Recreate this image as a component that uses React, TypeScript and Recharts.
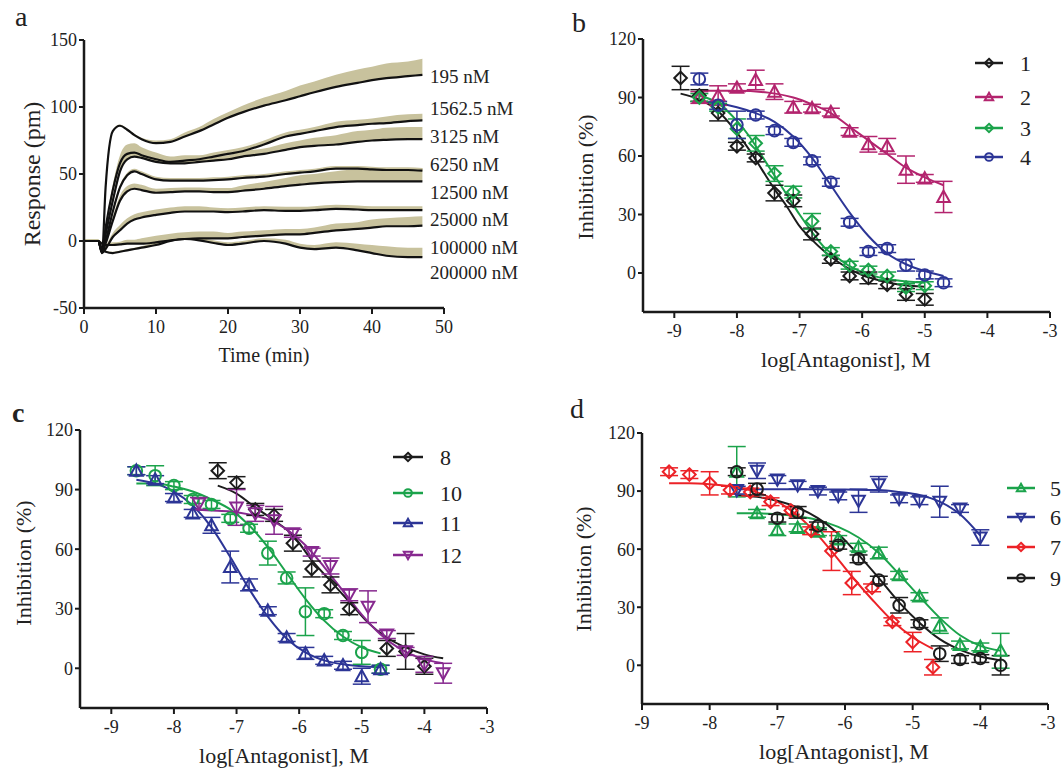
import React from "react";
import {
  ComposedChart,
  Line,
  Area,
  Scatter,
  ErrorBar,
  XAxis,
  YAxis,
  ReferenceDot,
} from "recharts";

const FONT = "'Liberation Serif', 'Times New Roman', serif";
const INK = "#1a1a1a";
const BAND = "#c8c29d";

// ---- panel a: response vs time, one trace per concentration ----
const times = [0, 1, 2, 2.5, 3, 4, 5, 6, 7, 8, 10, 12, 14, 16, 18, 20, 22, 25, 28, 30, 32, 35, 38, 40, 42, 45, 47];
const concLabels = ["195 nM", "1562.5 nM", "3125 nM", "6250 nM", "12500 nM", "25000 nM", "100000 nM", "200000 nM"];
const labelAt = [123, 99, 78, 57.5, 36.5, 16.4, -4.5, -23];

const resp195 = [0, 0, 0, -9, 40, 82, 86, 83, 79, 76, 73, 74, 78, 82, 87, 92, 96, 101, 105, 108, 111, 115, 118, 120, 121.5, 123, 124];
const sd195 = [1, 1, 1, 1, 1, 1, 1, 1, 1, 1, 2, 2, 3, 3, 4, 4, 5, 6, 7, 8, 8, 9, 10, 10, 11, 11, 12];
const resp1562 = [0, 0, 0, -8, 10, 38, 58, 65, 66, 64, 61, 59, 60, 61, 63, 65, 67, 72, 78, 80, 82, 85, 86.5, 87.5, 88, 89.5, 90];
const sd1562 = [1, 1, 1, 1, 2, 4, 6, 7, 7, 6, 5, 4, 4, 3, 3, 3, 3, 3, 3, 3, 3, 4, 4, 4, 5, 5, 5];
const resp3125 = [0, 0, 0, -8, 5, 30, 52, 61, 63, 62, 59, 58, 58, 59, 60, 61, 63, 65, 68, 70, 71, 72, 74, 75, 75.5, 76, 76];
const sd3125 = [1, 1, 1, 1, 2, 3, 4, 4, 4, 4, 3, 3, 3, 3, 3, 3, 4, 4, 5, 5, 6, 7, 8, 8, 9, 9, 9];
const resp6250 = [0, 0, 0, -8, 0, 22, 40, 49, 52, 50, 46, 45, 45, 45, 45.5, 46, 47, 48, 50, 51, 52, 54, 54, 53.5, 53, 53, 52.5];
const sd6250 = [1, 1, 1, 1, 1, 2, 2, 2, 2, 2, 2, 2, 2, 2, 2, 2, 2, 2, 2, 2, 2, 2, 2, 2, 2, 2, 2];
const resp12500 = [0, 0, 0, -8, -2, 15, 30, 37, 39, 38, 36, 36.5, 37, 37, 36.5, 36.5, 37.5, 39, 41, 42, 43, 44, 44.5, 44.5, 44.5, 44.5, 44.5];
const sd12500 = [1, 1, 1, 1, 2, 3, 4, 4, 4, 4, 3, 3, 3, 3, 3, 3, 4, 5, 6, 7, 7, 8, 9, 9, 10, 10, 10];
const resp25000 = [0, 0, 0, -9, -6, 3, 8, 13, 16, 17.5, 19.5, 21, 22, 22, 22, 21.5, 22, 23, 22.5, 22.5, 23, 24, 23.5, 23, 23, 23, 23];
const sd25000 = [1, 1, 1, 1, 2, 3, 4, 4, 4, 4, 4, 4, 4, 4, 3, 3, 3, 3, 3, 3, 3, 3, 3, 3, 3, 3, 3];
const resp100000 = [0, 0, 0, -2, -3, -3, -2.5, -2, -2, -2, -1, 0.5, 1.5, 2, 2, 2, 3, 4, 5, 5, 6, 8, 9, 10, 11, 11, 11.5];
const sd100000 = [1, 1, 1, 1, 1, 2, 2, 3, 3, 4, 5, 5, 5, 5, 5, 4, 4, 4, 4, 4, 4, 5, 5, 6, 6, 7, 7];
const resp200000 = [0, 0, 0, -6, -8, -9, -8, -7, -6, -5, -3, 0, 1.5, 0.5, -1.5, -3, -2, 0, -2, -5, -6, -5, -7, -9, -11, -12, -12];
const sd200000 = [1, 1, 1, 1, 1, 1, 1, 1, 1, 1, 2, 2, 2, 2, 2, 2, 2, 2, 3, 3, 3, 4, 5, 6, 7, 7, 7];

const traceResp = [resp195, resp1562, resp3125, resp6250, resp12500, resp25000, resp100000, resp200000];
const traceSd = [sd195, sd1562, sd3125, sd6250, sd12500, sd25000, sd100000, sd200000];

const timeRows = times.map((t, i) => {
  const row: Record<string, number | number[]> = { t };
  traceResp.forEach((r, k) => {
    row[`r${k}`] = r[i];
    row[`b${k}`] = [r[i], r[i] + traceSd[k][i]];
  });
  return row;
});

// ---- panel b ----
const x1 = [-8.9, -8.6, -8.3, -8.0, -7.7, -7.4, -7.1, -6.8, -6.5, -6.2, -5.9, -5.6, -5.3, -5.0];
const y1 = [100, 91, 82, 65, 59, 41, 37, 20, 7, -1.5, -2.5, -6, -11, -13.5];
const e1 = [6, 3, 4, 2, 2, 4, 3, 3, 2, 2, 3, 2, 3, 3];
const fx1 = [-8.9, -8.6, -8.3, -8.0, -7.8, -7.6, -7.4, -7.2, -7.0, -6.8, -6.6, -6.4, -6.2, -6.0, -5.7, -5.4, -5.0];
const fy1 = [92, 89, 83, 72, 63, 53, 43, 34, 24, 17, 11, 6, 2, -1, -4, -6, -7];

const x2 = [-8.6, -8.3, -8.0, -7.7, -7.4, -7.1, -6.8, -6.5, -6.2, -5.9, -5.6, -5.3, -5.0, -4.7];
const y2 = [90, 91, 95, 99, 93, 85, 84.5, 82.5, 72.5, 66, 65, 53, 48.5, 39];
const e2 = [3, 5, 2, 5, 4, 3, 2, 2, 2, 4, 4, 7, 2, 8];
const fx2 = [-8.6, -8.0, -7.5, -7.1, -6.8, -6.5, -6.2, -5.9, -5.6, -5.3, -5.0, -4.7];
const fy2 = [93.5, 93.5, 92.5, 90, 86.5, 82, 75, 68, 61, 54, 49, 45];

const x3 = [-8.6, -8.3, -8.0, -7.7, -7.4, -7.1, -6.8, -6.5, -6.2, -5.9, -5.6, -5.3, -5.0];
const y3 = [90, 85, 74, 66.5, 51, 41.5, 26.5, 11, 4, 1.5, -1.5, -7.5, -6.5];
const e3 = [2, 2, 5, 4, 4, 3, 4, 2, 2, 2, 2, 2, 2];
const fx3 = [-8.6, -8.3, -8.0, -7.8, -7.6, -7.4, -7.2, -7.0, -6.8, -6.6, -6.4, -6.2, -6.0, -5.7, -5.4, -5.0];
const fy3 = [91, 87, 78, 70, 60, 50, 40, 30, 21, 13, 8, 3.5, 0.5, -2.5, -4, -5];

const x4 = [-8.6, -8.3, -8.0, -7.7, -7.4, -7.1, -6.8, -6.5, -6.2, -5.9, -5.6, -5.3, -5.0, -4.7];
const y4 = [99.5, 86, 76, 81, 73, 67, 57.5, 46.5, 26, 11, 12.5, 4, -1, -5];
const e4 = [3, 2, 7, 2, 2, 2, 2, 2, 2, 2, 2, 3, 2, 2];
const fx4 = [-8.6, -8.3, -8.0, -7.7, -7.4, -7.1, -6.8, -6.5, -6.2, -5.9, -5.6, -5.3, -5.0, -4.7];
const fy4 = [88, 87, 85, 82, 77.5, 70, 59, 45, 31, 19, 10, 4.5, 1, -1.5];

// ---- panel c ----
const x8 = [-7.3, -7.0, -6.7, -6.4, -6.1, -5.8, -5.5, -5.2, -4.6, -4.3, -4.0];
const y8 = [99.5, 93.5, 80, 77, 63, 50, 42, 30, 10, 8.5, 1];
const e8 = [4, 3, 3, 3, 4, 4, 4, 3, 4, 9, 4];
const fx8 = [-7.3, -7.0, -6.7, -6.4, -6.1, -5.8, -5.5, -5.2, -4.9, -4.6, -4.3, -4.0, -3.7];
const fy8 = [92, 88, 81, 74.5, 67, 54.5, 44, 33.5, 23, 15.5, 10.5, 7, 5];

const x10 = [-8.6, -8.3, -8.0, -7.7, -7.4, -7.1, -6.8, -6.5, -6.2, -5.9, -5.6, -5.3, -5.0, -4.7];
const y10 = [99.5, 97, 92, 85, 82.5, 75.5, 70.5, 58, 45.5, 28.5, 27.5, 16.5, 8, -0.5];
const e10 = [2, 5, 2, 2, 2, 2, 2, 6, 3, 12, 2, 2, 6, 2];
const fx10 = [-8.6, -8.3, -8.0, -7.7, -7.4, -7.1, -6.8, -6.5, -6.2, -5.9, -5.6, -5.3, -5.0, -4.7];
const fy10 = [93, 93, 91.5, 89, 85, 80, 72, 61, 48, 35, 24, 16, 10.5, 7.5];

const x11 = [-8.6, -8.3, -8.0, -7.7, -7.4, -7.1, -6.8, -6.5, -6.2, -5.9, -5.6, -5.3, -5.0, -4.7];
const y11 = [99.5, 95, 86, 78, 72, 51, 42, 29, 15.5, 7.5, 4, 1.5, -4, -0.5];
const e11 = [2, 2, 2, 2, 4, 8, 3, 2, 2, 3, 2, 2, 4, 2];
const fx11 = [-8.6, -8.3, -8.0, -7.7, -7.4, -7.1, -6.8, -6.5, -6.2, -5.9, -5.6, -5.3, -5.0, -4.7];
const fy11 = [95, 93, 89, 82, 71, 56, 40, 26, 15, 8, 4, 2, 1, 0.5];

const x12 = [-7.6, -7.0, -6.7, -6.4, -6.1, -5.8, -5.5, -5.2, -4.9, -4.6, -4.3, -4.0, -3.7];
const y12 = [83, 81, 78, 74.5, 68, 58.5, 51.5, 37, 31, 17, 8.5, 2, -2.5];
const e12 = [3, 9, 4, 7, 2, 2, 4, 3, 8, 2, 2, 4, 5];
const fx12 = [-7.7, -7.4, -7.1, -6.8, -6.5, -6.2, -5.9, -5.6, -5.3, -5.0, -4.7, -4.4, -4.1, -3.7];
const fy12 = [80, 79.5, 79, 77.5, 75, 70, 62, 51, 39, 27, 17, 10, 5.5, 2.5];

// ---- panel d ----
const x5 = [-7.6, -7.3, -7.0, -6.7, -6.4, -6.1, -5.8, -5.5, -5.2, -4.9, -4.6, -4.3, -4.0, -3.7];
const y5 = [100, 78.5, 70, 71, 69, 65, 61, 58, 46.5, 35.5, 20.5, 10.5, 9.5, 7.5];
const e5 = [13, 2, 3, 2, 2, 2, 2, 3, 2, 2, 4, 2, 2, 9];
const fx5 = [-7.6, -7.3, -7.0, -6.7, -6.4, -6.1, -5.8, -5.5, -5.2, -4.9, -4.6, -4.3, -4.0, -3.7];
const fy5 = [78.5, 78.5, 78, 77, 75, 71.5, 66, 58, 47, 35.5, 24.5, 15.5, 10, 7.5];

const x6 = [-7.6, -7.3, -7.0, -6.7, -6.4, -6.1, -5.8, -5.5, -5.2, -4.9, -4.6, -4.3, -4.0];
const y6 = [90.5, 100.5, 96, 93, 90, 87.5, 85, 93.5, 86, 85, 84.5, 81, 66];
const e6 = [2, 4, 2, 2, 2, 2, 6, 4, 2, 2, 8, 2, 4];
const fx6 = [-7.6, -7.0, -6.5, -6.0, -5.5, -5.2, -4.9, -4.6, -4.3, -4.0];
const fy6 = [91, 91, 91, 90.8, 90.5, 89.5, 88, 84.5, 78, 67];

const x7 = [-8.6, -8.3, -8.0, -7.7, -7.4, -7.1, -6.8, -6.5, -6.2, -5.9, -5.6, -5.3, -5.0, -4.7];
const y7 = [100, 98.5, 94, 90.5, 89.5, 84.5, 80, 69.5, 59, 42.5, 40, 22.5, 12, -1];
const e7 = [2, 2, 6, 2, 2, 2, 2, 2, 10, 6, 2, 2, 5, 4];
const fx7 = [-8.6, -8.3, -8.0, -7.7, -7.4, -7.1, -6.8, -6.5, -6.2, -5.9, -5.6, -5.3, -5.0, -4.7];
const fy7 = [94, 94, 93.5, 92.5, 90.5, 86.5, 80, 71, 59, 46, 34, 23, 14.5, 8.5];

const x9 = [-7.6, -7.3, -7.0, -6.7, -6.4, -6.1, -5.8, -5.5, -5.2, -4.9, -4.6, -4.3, -4.0, -3.7];
const y9 = [100, 91, 76, 79, 72, 62, 55, 44, 31, 21.5, 6, 3, 3.5, 0];
const e9 = [2, 3, 2, 3, 2, 2, 2, 2, 4, 2, 4, 2, 2, 5];
const fx9 = [-7.6, -7.3, -7.0, -6.7, -6.4, -6.1, -5.8, -5.5, -5.2, -4.9, -4.6, -4.3, -4.0, -3.7];
const fy9 = [88, 87, 85, 81.5, 76, 68, 57, 45, 32.5, 22, 13.5, 8, 4.5, 2.5];

type Kind = "diamond" | "up" | "down" | "circle";

interface Series {
  name: string;
  kind: Kind;
  color: string;
  pts: { x: number; y: number; e: number }[];
  fit: { x: number; y: number }[];
}

const zipPts = (xs: number[], ys: number[], es: number[]) =>
  xs.map((x, i) => ({ x, y: ys[i], e: es[i] }));
const zipFit = (xs: number[], ys: number[]) => xs.map((x, i) => ({ x, y: ys[i] }));

const BLACK = "#1c1c1c";
const MAGENTA = "#b3246e";
const GREEN = "#1ba34b";
const BLUE = "#2c3596";
const PURPLE = "#87298f";
const RED = "#ec2227";

const seriesB: Series[] = [
  { name: "1", kind: "diamond", color: BLACK, pts: zipPts(x1, y1, e1), fit: zipFit(fx1, fy1) },
  { name: "2", kind: "up", color: MAGENTA, pts: zipPts(x2, y2, e2), fit: zipFit(fx2, fy2) },
  { name: "3", kind: "diamond", color: GREEN, pts: zipPts(x3, y3, e3), fit: zipFit(fx3, fy3) },
  { name: "4", kind: "circle", color: BLUE, pts: zipPts(x4, y4, e4), fit: zipFit(fx4, fy4) },
];
const seriesC: Series[] = [
  { name: "8", kind: "diamond", color: BLACK, pts: zipPts(x8, y8, e8), fit: zipFit(fx8, fy8) },
  { name: "10", kind: "circle", color: GREEN, pts: zipPts(x10, y10, e10), fit: zipFit(fx10, fy10) },
  { name: "11", kind: "up", color: BLUE, pts: zipPts(x11, y11, e11), fit: zipFit(fx11, fy11) },
  { name: "12", kind: "down", color: PURPLE, pts: zipPts(x12, y12, e12), fit: zipFit(fx12, fy12) },
];
const seriesD: Series[] = [
  { name: "5", kind: "up", color: GREEN, pts: zipPts(x5, y5, e5), fit: zipFit(fx5, fy5) },
  { name: "6", kind: "down", color: BLUE, pts: zipPts(x6, y6, e6), fit: zipFit(fx6, fy6) },
  { name: "7", kind: "diamond", color: RED, pts: zipPts(x7, y7, e7), fit: zipFit(fx7, fy7) },
  { name: "9", kind: "circle", color: BLACK, pts: zipPts(x9, y9, e9), fit: zipFit(fx9, fy9) },
];

function Marker({ cx, cy, kind, color, s, sw }: { cx?: number; cy?: number; kind: Kind; color: string; s: number; sw: number }) {
  if (cx == null || cy == null || isNaN(cx) || isNaN(cy)) return null;
  const common = { fill: "none", stroke: color, strokeWidth: sw };
  if (kind === "diamond")
    return <polygon points={`${cx},${cy - s} ${cx + s},${cy} ${cx},${cy + s} ${cx - s},${cy}`} {...common} />;
  if (kind === "up")
    return <polygon points={`${cx},${cy - s} ${cx + s},${cy + s * 0.8} ${cx - s},${cy + s * 0.8}`} {...common} />;
  if (kind === "down")
    return <polygon points={`${cx},${cy + s} ${cx + s},${cy - s * 0.8} ${cx - s},${cy - s * 0.8}`} {...common} />;
  return <circle cx={cx} cy={cy} r={s * 0.92} {...common} />;
}

const tickStyle = { fontSize: 18, fontFamily: FONT, fill: "#222" };
const axisLine = { stroke: INK, strokeWidth: 2.5 };
const tickLine = { stroke: INK, strokeWidth: 2 };

function DosePanel({
  left,
  top,
  width,
  height,
  margin,
  xDomain,
  series,
}: {
  left: number;
  top: number;
  width: number;
  height: number;
  margin: { top: number; right: number; bottom: number; left: number };
  xDomain: [number, number];
  series: Series[];
}) {
  return (
    <div style={{ position: "absolute", left, top }}>
      <ComposedChart width={width} height={height} margin={margin}>
        <XAxis
          type="number"
          dataKey="x"
          domain={xDomain}
          ticks={[-9, -8, -7, -6, -5, -4, -3]}
          allowDataOverflow
          height={30}
          tick={tickStyle}
          axisLine={axisLine}
          tickLine={tickLine}
          tickSize={6}
          tickMargin={6}
        />
        <YAxis
          type="number"
          dataKey="y"
          domain={[-20, 120]}
          ticks={[0, 30, 60, 90, 120]}
          allowDataOverflow
          width={60}
          tick={tickStyle}
          axisLine={axisLine}
          tickLine={tickLine}
          tickSize={5}
          tickMargin={2}
        />
        {series.map((s) => (
          <Line
            key={`fit-${s.name}`}
            data={s.fit}
            dataKey="y"
            type="monotone"
            stroke={s.color}
            strokeWidth={2}
            dot={false}
            activeDot={false}
            isAnimationActive={false}
          />
        ))}
        {series.map((s) => (
          <Scatter
            key={`pts-${s.name}`}
            data={s.pts}
            isAnimationActive={false}
            shape={(p: any) => <Marker cx={p.cx} cy={p.cy} kind={s.kind} color={s.color} s={6.3} sw={2} />}
          >
            <ErrorBar dataKey="e" direction="y" width={9} stroke={s.color} strokeWidth={1.5} />
          </Scatter>
        ))}
      </ComposedChart>
    </div>
  );
}

function Legend({ series, x1, x2, tx, ys }: { series: Series[]; x1: number; x2: number; tx: number; ys: number[] }) {
  return (
    <g>
      {series.map((s, i) => (
        <g key={s.name}>
          <line x1={x1} x2={x2} y1={ys[i]} y2={ys[i]} stroke={s.color} strokeWidth={2.5} />
          <Marker cx={(x1 + x2) / 2} cy={ys[i]} kind={s.kind} color={s.color} s={4.2} sw={2} />
          <text x={tx} y={ys[i]} dominantBaseline="central" fontSize={22} fontFamily={FONT} fill="#222">
            {s.name}
          </text>
        </g>
      ))}
    </g>
  );
}

export default function App() {
  const xTitle = "log[Antagonist], M";
  const yTitle = "Inhibition (%)";
  return (
    <div
      style={{
        position: "absolute",
        left: 0,
        top: 0,
        width: 1063,
        height: 769,
        background: "#fff",
        overflow: "hidden",
        fontFamily: FONT,
      }}
    >
      {/* panel a */}
      <div style={{ position: "absolute", left: 0, top: 0 }}>
        <ComposedChart width={540} height={380} data={timeRows} margin={{ top: 40, right: 96, bottom: 42, left: 24 }}>
          <XAxis
            type="number"
            dataKey="t"
            domain={[0, 50]}
            ticks={[0, 10, 20, 30, 40, 50]}
            height={30}
            tick={tickStyle}
            axisLine={axisLine}
            tickLine={tickLine}
            tickSize={6}
            tickMargin={6}
          />
          <YAxis
            type="number"
            domain={[-50, 150]}
            ticks={[-50, 0, 50, 100, 150]}
            width={60}
            tick={tickStyle}
            axisLine={axisLine}
            tickLine={tickLine}
            tickSize={5}
            tickMargin={2}
          />
          {traceResp.map((_, k) => (
            <Area
              key={`band-${k}`}
              dataKey={`b${k}`}
              type="monotone"
              fill={BAND}
              fillOpacity={1}
              stroke="none"
              isAnimationActive={false}
            />
          ))}
          {traceResp.map((_, k) => (
            <Line
              key={`trace-${k}`}
              dataKey={`r${k}`}
              type="monotone"
              stroke="#111"
              strokeWidth={2.2}
              dot={false}
              activeDot={false}
              isAnimationActive={false}
            />
          ))}
          {concLabels.map((c, k) => (
            <ReferenceDot
              key={c}
              x={47.9}
              y={labelAt[k]}
              r={1}
              fill="none"
              stroke="none"
              ifOverflow="visible"
              label={{ value: c, position: "right", offset: 0, fontSize: 19, fontFamily: FONT, fill: "#222" }}
            />
          ))}
        </ComposedChart>
      </div>

      <DosePanel left={540} top={0} width={523} height={380} margin={{ top: 39, right: 13, bottom: 38, left: 43 }} xDomain={[-9.5, -3]} series={seriesB} />
      <DosePanel left={0} top={390} width={540} height={379} margin={{ top: 40, right: 53, bottom: 31, left: 20 }} xDomain={[-9.5, -3]} series={seriesC} />
      <DosePanel left={540} top={390} width={523} height={379} margin={{ top: 43, right: 15, bottom: 35, left: 42 }} xDomain={[-9, -3]} series={seriesD} />

      <svg width={1063} height={769} style={{ position: "absolute", left: 0, top: 0, pointerEvents: "none" }}>
        <g fontFamily={FONT} fill="#222">
          <text x={15} y={26} fontSize={28}>a</text>
          <text x={572} y={32} fontSize={28}>b</text>
          <text x={12} y={422} fontSize={28} fontWeight="bold">c</text>
          <text x={570} y={418} fontSize={28}>d</text>

          <text x={264} y={362} fontSize={20} textAnchor="middle">Time (min)</text>
          <text transform="translate(32,174) rotate(-90)" fontSize={24} textAnchor="middle" dominantBaseline="central">
            Response (pm)
          </text>

          <text x={846} y={367} fontSize={22} textAnchor="middle">{xTitle}</text>
          <text transform="translate(585,177) rotate(-90)" fontSize={22} textAnchor="middle" dominantBaseline="central">
            {yTitle}
          </text>

          <text x={284} y={763} fontSize={22} textAnchor="middle">{xTitle}</text>
          <text transform="translate(23,563) rotate(-90)" fontSize={22} textAnchor="middle" dominantBaseline="central">
            {yTitle}
          </text>

          <text x={844} y={759} fontSize={22} textAnchor="middle">{xTitle}</text>
          <text transform="translate(583,569) rotate(-90)" fontSize={22} textAnchor="middle" dominantBaseline="central">
            {yTitle}
          </text>
        </g>
        <Legend series={seriesB} x1={975} x2={1003} tx={1020} ys={[63, 97, 128, 157]} />
        <Legend series={seriesC} x1={393} x2={423} tx={440} ys={[457, 493, 523, 555]} />
        <Legend series={seriesD} x1={1007} x2={1035} tx={1050} ys={[488, 517, 547, 578]} />
      </svg>
    </div>
  );
}
